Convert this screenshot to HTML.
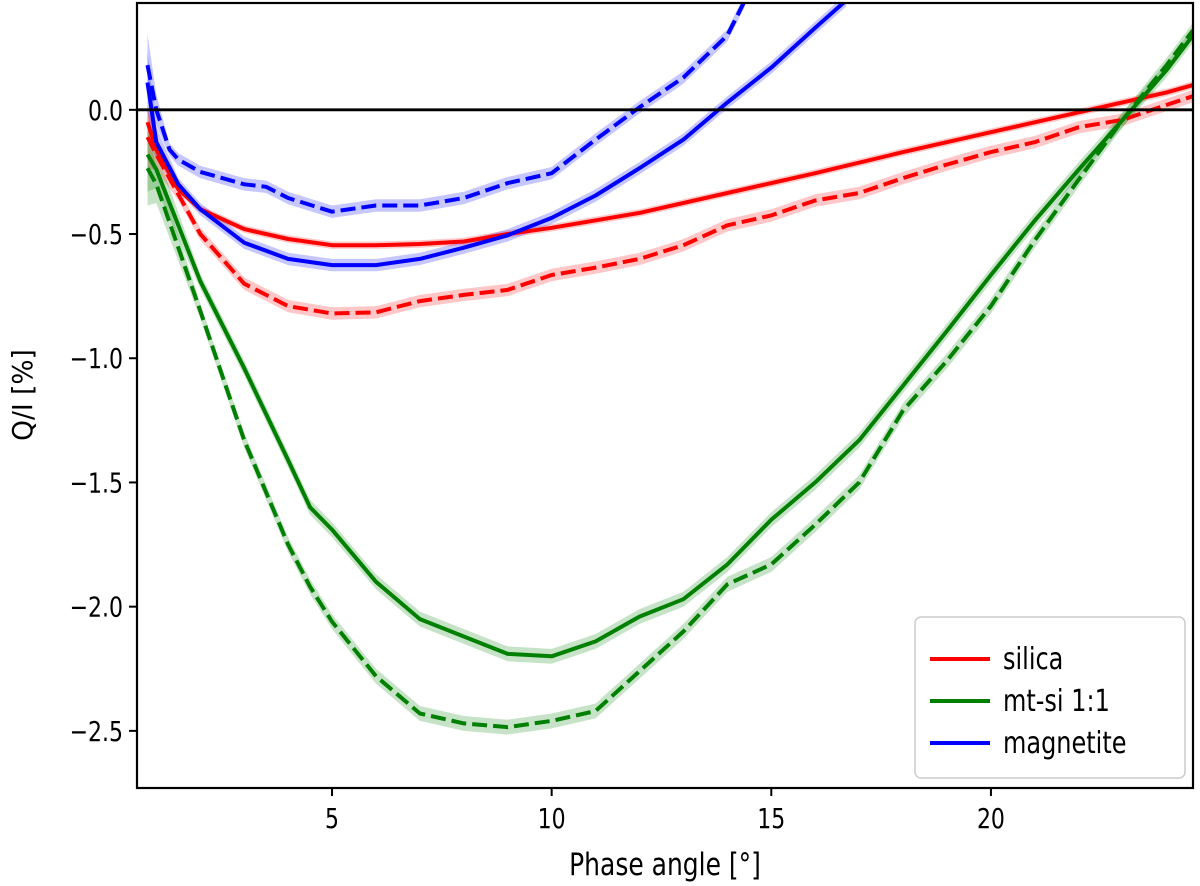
<!DOCTYPE html>
<html><head><meta charset="utf-8"><style>
html,body{margin:0;padding:0;background:#fff;}
svg{display:block;font-family:"DejaVu Sans","Liberation Sans",sans-serif;}
</style></head><body>
<svg id="chart" width="1200" height="886" viewBox="0 0 1200 886" xmlns="http://www.w3.org/2000/svg">
<defs><clipPath id="clip"><rect x="137" y="3" width="1056" height="785"/></clipPath></defs>
<g id="bands" clip-path="url(#clip)"></g>
<g id="lines" clip-path="url(#clip)"></g>
<g id="axes"></g>
</svg>
<script>
const xTicks = [5, 10, 15, 20];
const yTicks = [0.0, -0.5, -1.0, -1.5, -2.0, -2.5];
const yTickLabels = ["0.0", "\u22120.5", "\u22121.0", "\u22121.5", "\u22122.0", "\u22122.5"];
const legendLabels = ["silica", "mt-si 1:1", "magnetite"];

const silicaX = [0.8,1,1.5,2,3,4,5,6,7,8,9,10,12,14,16,18,20,22,24,24.6];
const silicaY = [-0.05,-0.16,-0.32,-0.40,-0.48,-0.52,-0.545,-0.545,-0.54,-0.53,-0.5,-0.475,-0.415,-0.335,-0.255,-0.17,-0.09,-0.01,0.07,0.1];
const silicaDX = [0.8,1,1.5,2,3,4,5,6,7,8,9,10,11,12,13,14,15,16,17,18,19,20,21,22,23,24,24.6];
const silicaDY = [-0.11,-0.18,-0.34,-0.5,-0.70,-0.79,-0.82,-0.815,-0.77,-0.745,-0.725,-0.665,-0.635,-0.6,-0.545,-0.465,-0.425,-0.365,-0.335,-0.275,-0.22,-0.17,-0.13,-0.07,-0.04,0.02,0.055];
const mixX = [0.8,1,2,3,4,4.5,5,6,7,8,9,10,11,12,13,14,15,16,17,18,19,20,21,22,23,24,24.6];
const mixY = [-0.18,-0.24,-0.69,-1.04,-1.41,-1.6,-1.69,-1.9,-2.05,-2.12,-2.19,-2.2,-2.14,-2.04,-1.97,-1.83,-1.65,-1.5,-1.33,-1.11,-0.89,-0.665,-0.445,-0.24,-0.04,0.16,0.3];
const mixDY = [-0.235,-0.3,-0.81,-1.33,-1.75,-1.92,-2.06,-2.28,-2.43,-2.47,-2.485,-2.46,-2.42,-2.26,-2.1,-1.91,-1.83,-1.67,-1.5,-1.21,-1.01,-0.79,-0.525,-0.28,-0.04,0.18,0.32];
const magX = [0.8,1,1.5,2,3,4,5,6,7,8,9,10,11,12,13,14,15,16,16.7];
const magY = [0.11,-0.13,-0.30,-0.40,-0.535,-0.6,-0.625,-0.625,-0.6,-0.555,-0.505,-0.435,-0.345,-0.235,-0.12,0.03,0.17,0.33,0.44];
const magDX = [0.8,1,1.3,1.5,2,3,3.5,4,5,6,7,8,9,10,11,12,13,14,14.4];
const magDY = [0.18,0.0,-0.16,-0.2,-0.25,-0.3,-0.31,-0.355,-0.41,-0.385,-0.385,-0.355,-0.295,-0.255,-0.12,0.01,0.13,0.3,0.44];
const bandErr = [0.015, 0.025, 0.03, 0.025, 0.025];  // typical half-width per series

const NS = "http://www.w3.org/2000/svg";
const L = 137, R = 1193, T = 3, B = 788;
const xMin = 0.56, xMax = 24.6, yMin = -2.73, yMax = 0.43;
const sx = v => L + (v - xMin) / (xMax - xMin) * (R - L);
const sy = v => T + (yMax - v) / (yMax - yMin) * (B - T);

function el(tag, attrs, parent) {
  const e = document.createElementNS(NS, tag);
  for (const k in attrs) e.setAttribute(k, attrs[k]);
  parent.appendChild(e);
  return e;
}
function txt(x, y, size, anchor, content, parent, extra) {
  const t = el('text', {x:0, y:0, 'font-size':size, 'text-anchor':anchor,
    transform:'translate('+x+','+y+') '+(extra||'')+' scale(1,1.25)'}, parent);
  t.textContent = content;
  return t;
}
const bands = document.getElementById('bands');
const lines = document.getElementById('lines');
const axes = document.getElementById('axes');

function errAt(i, base) { return i === 0 ? base * 5 : (i === 1 ? base * 2.5 : base); }

const series = [
  {name:'silica-solid', xs:silicaX, ys:silicaY, c:'#ff0000', dash:false, e:bandErr[0]},
  {name:'silica-dashed', xs:silicaDX, ys:silicaDY, c:'#ff0000', dash:true, e:bandErr[1]},
  {name:'mt-si-solid', xs:mixX, ys:mixY, c:'#008000', dash:false, e:bandErr[2]},
  {name:'mt-si-dashed', xs:mixX, ys:mixDY, c:'#008000', dash:true, e:bandErr[2]},
  {name:'magnetite-solid', xs:magX, ys:magY, c:'#0000ff', dash:false, e:bandErr[3]},
  {name:'magnetite-dashed', xs:magDX, ys:magDY, c:'#0000ff', dash:true, e:bandErr[4]},
];
series.forEach(s => {
  const up = s.xs.map((x,i) => sx(x).toFixed(1)+','+sy(s.ys[i]+errAt(i,s.e)).toFixed(1));
  const dn = s.xs.map((x,i) => sx(x).toFixed(1)+','+sy(s.ys[i]-errAt(i,s.e)).toFixed(1)).reverse();
  const band = el('polygon', {points: up.concat(dn).join(' '), fill: s.c, 'fill-opacity': 0.22, stroke: 'none'}, bands);
  
  
  const pts = s.xs.map((x,i) => sx(x).toFixed(1)+','+sy(s.ys[i]).toFixed(1)).join(' ');
  const a = {points: pts, fill:'none', stroke: s.c, 'stroke-width': 4, 'stroke-linejoin':'round'};
  if (s.dash) a['stroke-dasharray'] = '15,6';
  const line = el('polyline', a, lines);
  
  
});

const zl = el('line', {x1:L, x2:R, y1:sy(0), y2:sy(0), stroke:'#000', 'stroke-width':2.8}, axes);


const frame = el('rect', {x:L, y:T, width:R-L, height:B-T, fill:'none', stroke:'#000', 'stroke-width':2.2}, axes);



xTicks.forEach(v => {
  const t = el('line', {x1:sx(v), x2:sx(v), y1:B, y2:B+8, stroke:'#000', 'stroke-width':2}, axes);
  
  
  const tx = txt(sx(v), B+40, 22, 'middle', v, axes);
  
  
});
yTicks.forEach((v,i) => {
  const t = el('line', {x1:L-8, x2:L, y1:sy(v), y2:sy(v), stroke:'#000', 'stroke-width':2}, axes);
  
  
  const tx = txt(L-14, sy(v)+10, 22, 'end', yTickLabels[i], axes);
  
  
});
const xl = txt((L+R)/2, 875, 25, 'middle', 'Phase angle [°]', axes);


const yl = el('text', {x:0, y:0, 'font-size':23, 'text-anchor':'middle', transform:'translate(32,395) rotate(-90) scale(1.15,1.2)'}, axes);
yl.textContent = 'Q/I [%]';



const lg = el('g', {}, axes);


el('rect', {x:915, y:617, width:270, height:161, rx:6, fill:'#fff', 'fill-opacity':0.85, stroke:'#ccc', 'stroke-width':1.5}, lg);
const lcols = ['#ff0000', '#008000', '#0000ff'];
legendLabels.forEach((lab,i) => {
  const y = 659 + i*42;
  const ln = el('line', {x1:930, x2:990, y1:y, y2:y, stroke:lcols[i], 'stroke-width':4}, lg);
  
  
  const tx = txt(1003, y+10, 24, 'start', lab, lg);
  
  
});
</script>
</body></html>
